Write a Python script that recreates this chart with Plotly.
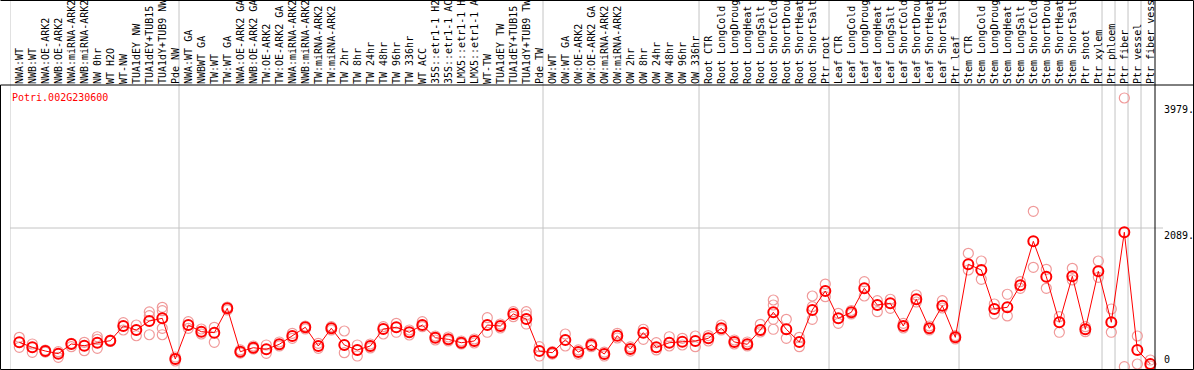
import plotly.graph_objects as go

gene = "Potri.002G230600"

labels = [
    "NWA:WT", "NWB:WT", "NWA:OE-ARK2", "NWB:OE-ARK2", "NWA:miRNA-ARK2", "NWB:miRNA-ARK2",
    "NW 0hr", "WT H2O", "WT-NW", "TUA1dEY NW", "TUA1dEY+TUB15 NW", "TUA1dY+TUB9 NW", "Pde NW",
    "NWA:WT GA", "NWBWT GA", "TW:WT", "TW:WT GA", "NWA:OE-ARK2 GA", "NWB:OE-ARK2 GA",
    "TW:OE-ARK2", "TW:OE-ARK2 GA", "NWA:miRNA-ARK2 GA", "NWB:miRNA-ARK2 GA", "TW:miRNA-ARK2",
    "TW:miRNA-ARK2 GA", "TW 2hr", "TW 8hr", "TW 24hr", "TW 48hr", "TW 96hr", "TW 336hr",
    "WT ACC", "35S::etr1-1 H2O", "35S::etr1-1 ACC", "LMX5::etr1-1 H2O", "LMX5::etr1-1 ACC",
    "WT-TW", "TUA1dEY TW", "TUA1dEY+TUB15 TW", "TUA1dY+TUB9 TW", "Pde TW",
    "OW:WT", "OW:WT GA", "OW:OE-ARK2", "OW:OE-ARK2 GA", "OW:miRNA-ARK2", "OW:miRNA-ARK2 GA",
    "OW 2hr", "OW 8hr", "OW 24hr", "OW 48hr", "OW 96hr", "OW 336hr",
    "Root CTR", "Root LongCold", "Root LongDrought", "Root LongHeat", "Root LongSalt",
    "Root ShortCold", "Root ShortDrought", "Root ShortHeat", "Root ShortSalt", "Ptr root",
    "Leaf CTR", "Leaf LongCold", "Leaf LongDrought", "Leaf LongHeat", "Leaf LongSalt",
    "Leaf ShortCold", "Leaf ShortDrought", "Leaf ShortHeat", "Leaf ShortSalt", "Ptr leaf",
    "Stem CTR", "Stem LongCold", "Stem LongDrought", "Stem LongHeat", "Stem LongSalt",
    "Stem ShortCold", "Stem ShortDrought", "Stem ShortHeat", "Stem ShortSalt", "Ptr shoot",
    "Ptr xylem", "Ptr phloem", "Ptr fiber", "Ptr vessel", "Ptr fiber vessel",
]

mean_values = [
    371, 296, 240, 200, 346, 320, 365, 395, 616, 556, 691, 732, 120,
    631, 531, 516, 882, 230, 290, 266, 341, 466, 597, 316, 582, 331, 256, 316, 571, 597, 522,
    631, 440, 416, 365, 391, 631, 616, 797, 721, 240,
    215, 406, 225, 331, 195, 470, 271, 516, 296, 365, 380, 391,
    431, 582, 376, 341, 556, 822, 567, 376, 857, 1142,
    732, 822, 1183, 932, 957, 616, 1018, 582, 921, 446,
    1544, 1458, 872, 897, 1228, 1889, 1357, 672, 1363, 567, 1438,
    672, 2025, 256, 45,
]

rep1 = [
    446, 346, 255, 230, 356, 371, 455, 406, 666, 631, 827, 897, 150,
    681, 571, 597, 902, 256, 316, 331, 376, 506, 616, 356, 606, 541, 331, 346, 606, 657, 556,
    681, 466, 451, 391, 421, 741, 646, 831, 831, 305,
    230, 496, 256, 356, 225, 506, 301, 567, 365, 455, 431, 466,
    473, 631, 406, 376, 642, 1007, 717, 446, 1067, 1247,
    807, 849, 1282, 997, 1018, 657, 1082, 616, 997, 473,
    1709, 1593, 947, 1093, 1282, 2340, 1468, 756, 1483, 606, 1593,
    872, 4043, 466, 105,
]

rep2 = [
    296, 221, 225, 146, 305, 245, 416, 383, 556, 470, 771, 846, 90,
    582, 496, 371, 857, 210, 271, 206, 316, 431, 571, 281, 556, 215, 165, 286, 496, 522, 481,
    606, 406, 391, 346, 361, 522, 586, 756, 782, 165,
    195, 316, 195, 305, 165, 436, 240, 416, 256, 316, 331, 305,
    391, 556, 346, 316, 526, 932, 431, 305, 906, 1057,
    657, 797, 1067, 831, 882, 586, 977, 556, 887, 421,
    1458, 1318, 797, 767, 1183, 1498, 1183, 522, 1308, 531, 1348,
    522, 5, 45, 15,
]

rep3 = [
    None, None, None, None, None, None, 281, None, None, None, 485, 582, None,
    None, None, None, None, None, None, None, None, None, None, None, None, None, None, None, None, None, None,
    None, None, None, None, None, None, None, None, 646, None,
    None, None, None, None, None, None, None, None, None, None, None, None,
    None, None, None, None, None, 717, None, None, 717, None,
    None, None, None, None, None, None, None, None, None, None,
    None, None, None, None, None, None, None, None, None, None, None,
    None, None, None, None,
]

rep4 = [
    None, None, None, None, None, None, None, None, None, None, None, 485, None,
    None, None, None, None, None, None, None, None, None, None, None, None, None, None, None, None, None, None,
    None, None, None, None, None, None, None, None, None, None,
    None, None, None, None, None, None, None, None, None, None, None, None,
    None, None, None, None, None, 567, None, None, None, None,
    None, None, None, None, None, None, None, None, None, None,
    None, None, None, None, None, None, None, None, None, None, None,
    None, None, None, None,
]

group_starts = [1, 14, 42, 54, 64, 74, 85, 86, 87, 88]
ref_ticks = [3979, 2089]

idx = list(range(1, len(labels) + 1))

# figure geometry (pixels)
W, H = 1194, 370
ML, MR, MT, MB = 10, 39, 85, 1
PW, PH = W - ML - MR, H - MT - MB
XR = [0.285, 88.36]
YR = [-30, 4238]

fig = go.Figure()

rx, ry = [], []
for reps in (rep1, rep2, rep3, rep4):
    for i, v in zip(idx, reps):
        if v is not None:
            rx.append(i)
            ry.append(v)

fig.add_trace(go.Scatter(
    x=rx, y=ry, mode="markers",
    marker=dict(symbol="circle-open", size=10, color="#f09a9a", line=dict(width=1.2)),
    hoverinfo="skip", showlegend=False, cliponaxis=False,
))
fig.add_trace(go.Scatter(
    x=idx, y=mean_values, mode="lines+markers",
    line=dict(color="#ff0000", width=1),
    marker=dict(symbol="circle-open", size=10, color="#ff0000", line=dict(width=2)),
    showlegend=False, cliponaxis=False,
))

top_paper = 1 + (MT - 0.5) / PH
shapes = []
for g in group_starts:
    shapes.append(dict(type="line", xref="x", yref="paper", x0=g - 0.715, x1=g - 0.715,
                       y0=0, y1=top_paper, line=dict(color="#c4c4c4", width=1), layer="below"))
# gridline at reference value
shapes.append(dict(type="line", xref="paper", yref="y", x0=0, x1=(1163 - ML) / PW,
                   y0=ref_ticks[1], y1=ref_ticks[1], line=dict(color="#c4c4c4", width=1), layer="below"))
# borders
lx = (0.5 - ML) / PW
rxp = (W - 0.5 - ML) / PW
blk = dict(color="black", width=1)
shapes += [
    dict(type="line", xref="paper", yref="paper", x0=lx, x1=rxp, y0=1, y1=1, line=blk),
    dict(type="line", xref="paper", yref="paper", x0=lx, x1=rxp, y0=top_paper, y1=top_paper, line=blk),
    dict(type="line", xref="paper", yref="paper", x0=lx, x1=rxp, y0=-0.5 / PH, y1=-0.5 / PH, line=blk),
    dict(type="line", xref="paper", yref="paper", x0=lx, x1=lx, y0=-0.5 / PH, y1=1, line=blk),
    dict(type="line", xref="paper", yref="paper", x0=rxp, x1=rxp, y0=-0.5 / PH, y1=top_paper, line=blk),
    dict(type="line", xref="paper", yref="paper", x0=1, x1=1, y0=-0.5 / PH, y1=top_paper, line=blk),
]

mono = "DejaVu Sans Mono"
annotations = [
    dict(text=gene, xref="paper", yref="paper", x=0, y=(H - MB - 97) / PH, xanchor="left",
         yanchor="middle", showarrow=False, font=dict(family=mono, size=10, color="#ff0000")),
    dict(text=f"{ref_ticks[0]}.", xref="paper", yref="y", x=(1162 - ML) / PW, y=ref_ticks[0],
         xanchor="left", yanchor="top", showarrow=False, font=dict(family=mono, size=10, color="black")),
    dict(text=f"{ref_ticks[1]}.", xref="paper", yref="y", x=(1162 - ML) / PW, y=ref_ticks[1],
         xanchor="left", yanchor="top", showarrow=False, font=dict(family=mono, size=10, color="black")),
    dict(text="0", xref="paper", yref="y", x=(1162 - ML) / PW, y=0,
         xanchor="left", yanchor="bottom", showarrow=False, font=dict(family=mono, size=10, color="black")),
]

fig.update_layout(
    template="none",
    width=W, height=H,
    margin=dict(l=ML, r=MR, t=MT, b=MB, pad=0),
    paper_bgcolor="white", plot_bgcolor="white",
    shapes=shapes, annotations=annotations,
    xaxis=dict(range=XR, side="top", tickmode="array", tickvals=idx, ticktext=labels,
               tickangle=-90, ticks="", showgrid=False, zeroline=False, showline=False,
               automargin=False, ticklabeloverflow="allow",
               tickfont=dict(family=mono, size=10, color="black")),
    yaxis=dict(range=YR, showticklabels=False, showgrid=False, zeroline=False,
               showline=False, ticks="", automargin=False),
)

fig.write_html("out.html", config={"displayModeBar": False},
               post_script="document.body.style.margin='0';document.body.style.overflow='hidden';")
